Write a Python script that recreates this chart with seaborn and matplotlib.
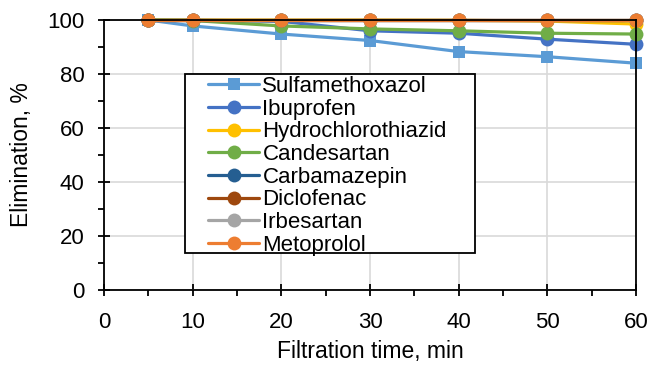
import numpy as np
import pandas as pd
import matplotlib
matplotlib.use("Agg")
import matplotlib.pyplot as plt
from matplotlib.patches import Rectangle
from matplotlib.ticker import MultipleLocator
import seaborn as sns

# data
time_min = [5, 10, 20, 30, 40, 50, 60]
sulfamethoxazol    = [100, 97.8, 94.8, 92.4, 88.3, 86.4, 84.0]
ibuprofen          = [100, 100, 99.5, 96.0, 95.1, 92.9, 91.0]
hydrochlorothiazid = [100, 100, 100, 100, 99.9, 99.6, 98.5]
candesartan        = [100, 99.8, 97.8, 96.7, 96.0, 95.1, 94.8]
carbamazepin       = [100, 100, 100, 100, 100, 100, 100]
diclofenac         = [100, 100, 100, 100, 100, 100, 100]
irbesartan         = [100, 100, 100, 100, 100, 100, 100]
metoprolol         = [100, 100, 100, 100, 100, 100, 100]

names = ["Sulfamethoxazol", "Ibuprofen", "Hydrochlorothiazid", "Candesartan",
         "Carbamazepin", "Diclofenac", "Irbesartan", "Metoprolol"]
series = [sulfamethoxazol, ibuprofen, hydrochlorothiazid, candesartan,
          carbamazepin, diclofenac, irbesartan, metoprolol]
colors = ["#5B9BD5", "#4472C4", "#FFC000", "#70AD47",
          "#255E91", "#9E480E", "#A5A5A5", "#ED7D31"]

df = pd.concat([pd.DataFrame({"time": time_min, "elim": vals, "compound": n})
                for n, vals in zip(names, series)], ignore_index=True)

sns.set_theme(style="ticks")
plt.rcParams["font.family"] = ["Liberation Sans", "DejaVu Sans"]
plt.rcParams["text.color"] = "black"

fig = plt.figure(figsize=(6.51, 3.68), dpi=100)
ax = fig.add_axes([104 / 651, 1 - 290 / 368, 532 / 651, 270 / 368])

# light grid behind everything
ax.grid(True, color="#D9D9D9", linewidth=1.2, zorder=0)
ax.set_axisbelow(True)

palette = dict(zip(names, colors))
markers = {n: ("s" if n == "Sulfamethoxazol" else "o") for n in names}
sns.lineplot(data=df, x="time", y="elim", hue="compound", style="compound",
             hue_order=names, style_order=names, palette=palette,
             markers=markers, dashes=False, linewidth=2.3, markersize=10,
             markeredgewidth=0, ax=ax, legend=True, clip_on=False)
for ln in ax.lines:
    if ln.get_marker() == "s":
        ln.set_markersize(8.5)

ax.set_xlim(0, 60)
ax.set_ylim(0, 100)
ax.xaxis.set_major_locator(MultipleLocator(10))
ax.xaxis.set_minor_locator(MultipleLocator(5))
ax.yaxis.set_major_locator(MultipleLocator(20))
ax.yaxis.set_minor_locator(MultipleLocator(10))
ax.tick_params(which="major", direction="inout", length=8, width=1.3,
               labelsize=16, color="black", labelcolor="black")
ax.tick_params(axis="y", which="major", pad=10)
ax.tick_params(axis="x", which="major", pad=12)
ax.tick_params(which="minor", direction="out", length=4, width=1.3, color="black")
ax.grid(False, which="minor")
for s in ax.spines.values():
    s.set_visible(True)
    s.set_color("black")
    s.set_linewidth(1.3)

ax.set_xlabel("Filtration time, min", fontsize=16.5, color="black", labelpad=5)
ax.set_ylabel("Elimination, %", fontsize=16.5, color="black", labelpad=10)

# legend with a separate frame box
handles, labels = ax.get_legend_handles_labels()
leg = ax.legend(handles, labels, loc="upper left",
                bbox_to_anchor=((208 - 104) / 532, (290 - 76) / 270),
                frameon=False, fontsize=16, borderpad=0, labelspacing=0.075,
                handlelength=2.3, handletextpad=0.15, borderaxespad=0)
leg.set_zorder(6)
for t in leg.get_texts():
    t.set_color("black")
for h in leg.legend_handles:
    h.set_linewidth(2.3)
ax.add_patch(Rectangle(((185 - 104) / 532, (290 - 253) / 270),
                       (475 - 185) / 532, (253 - 74) / 270,
                       transform=ax.transAxes, facecolor="white",
                       edgecolor="black", linewidth=1.3, zorder=5))

fig.savefig("out.png", dpi=100)
